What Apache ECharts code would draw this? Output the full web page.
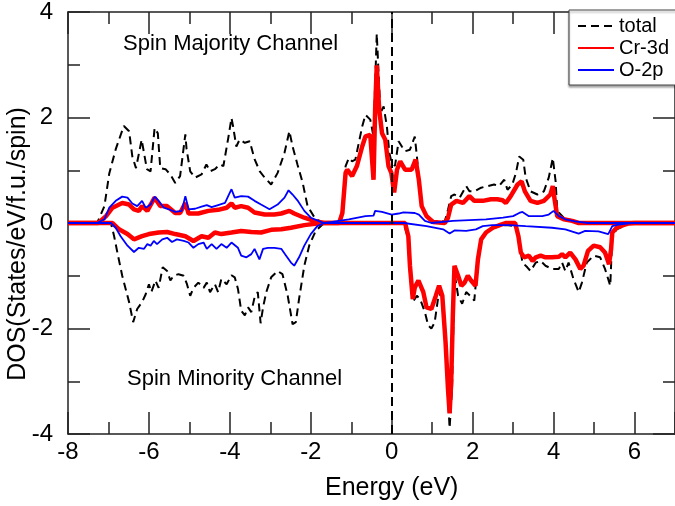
<!DOCTYPE html>
<html>
<head>
<meta charset="utf-8">
<script src="https://cdn.jsdelivr.net/npm/echarts@6/dist/echarts.min.js"></script>
<style>html,body{margin:0;padding:0;background:#fff;}#c{width:675px;height:506px;}</style>
</head>
<body>
<div id="c"></div>
<script>
var xTicks = [-8, -6, -4, -2, 0, 2, 4, 6];
var yTicks = [-4, -2, 0, 2, 4];
var legendNames = ['total', 'Cr-3d', 'O-2p'];

var totalUp = [[-8,0],[-7.28,0],[-7.1,0.32],[-6.98,0.94],[-6.82,1.40],[-6.62,1.84],[-6.49,1.74],[-6.41,1.26],[-6.32,1.04],[-6.18,1.58],[-6.12,1.32],[-6.05,1.02],[-5.96,0.98],[-5.86,1.80],[-5.78,1.70],[-5.72,1.04],[-5.59,1.02],[-5.47,0.92],[-5.35,0.76],[-5.23,0.89],[-5.10,1.68],[-5.07,1.40],[-4.98,0.98],[-4.86,0.86],[-4.70,0.92],[-4.58,1.11],[-4.49,0.98],[-4.37,1.02],[-4.25,1.11],[-4.16,1.08],[-4.04,1.61],[-3.96,1.99],[-3.92,1.83],[-3.84,1.45],[-3.76,1.58],[-3.63,1.52],[-3.51,1.55],[-3.39,1.21],[-3.26,0.98],[-3.14,0.86],[-2.98,0.73],[-2.82,0.95],[-2.65,1.33],[-2.53,1.74],[-2.45,1.45],[-2.33,1.11],[-2.20,0.76],[-2.08,0.32],[-1.88,0.07],[-1.67,0],[-1.30,0.01],[-1.22,0.25],[-1.14,1.08],[-1.06,1.23],[-0.98,1.17],[-0.90,1.20],[-0.73,1.83],[-0.65,2.05],[-0.53,1.96],[-0.45,1.64],[-0.37,3.59],[-0.28,2.08],[-0.20,2.21],[-0.12,1.83],[-0.06,1.33],[-0.02,1.20],[0.08,1.08],[0.17,1.55],[0.25,1.45],[0.33,1.36],[0.45,1.39],[0.57,1.64],[0.63,1.20],[0.72,0.38],[0.86,0.13],[1.02,0.04],[1.31,0.03],[1.39,0.25],[1.47,0.51],[1.55,0.54],[1.68,0.48],[1.84,0.70],[1.92,0.60],[2.04,0.60],[2.21,0.67],[2.37,0.70],[2.53,0.73],[2.65,0.70],[2.78,0.82],[2.86,0.63],[2.98,0.73],[3.07,0.95],[3.15,1.26],[3.25,1.20],[3.31,0.86],[3.43,0.60],[3.60,0.54],[3.76,0.60],[3.88,0.86],[3.98,1.23],[4.05,0.79],[4.09,0.23],[4.25,0.10],[4.46,0.05],[4.62,0.01],[4.85,0],[7,0]];

var crUp = [[-8,0],[-7.25,0],[-7.06,0.13],[-6.90,0.29],[-6.66,0.38],[-6.49,0.35],[-6.37,0.26],[-6.25,0.23],[-6.17,0.32],[-6.04,0.23],[-5.86,0.48],[-5.72,0.32],[-5.55,0.32],[-5.35,0.19],[-5.23,0.19],[-5.10,0.38],[-5.02,0.18],[-4.78,0.18],[-4.53,0.23],[-4.29,0.25],[-4.08,0.29],[-3.96,0.37],[-3.88,0.29],[-3.72,0.32],[-3.55,0.29],[-3.39,0.20],[-3.14,0.16],[-2.90,0.16],[-2.73,0.18],[-2.53,0.23],[-2.41,0.18],[-2.16,0.10],[-1.92,0.04],[-1.67,0],[-1.30,0],[-1.22,0.19],[-1.14,0.95],[-1.10,1.01],[-0.98,0.89],[-0.86,1.08],[-0.73,1.45],[-0.65,1.64],[-0.53,1.67],[-0.45,0.82],[-0.41,2.15],[-0.37,2.99],[-0.31,2.15],[-0.24,1.70],[-0.16,1.58],[-0.08,1.08],[-0.01,0.95],[0.06,0.58],[0.13,1.01],[0.21,1.17],[0.33,1.01],[0.49,1.01],[0.59,1.20],[0.67,0.82],[0.74,0.32],[0.86,0.13],[1.02,0.02],[1.31,0],[1.39,0.10],[1.47,0.35],[1.60,0.42],[1.76,0.38],[1.92,0.51],[2.04,0.42],[2.25,0.42],[2.45,0.45],[2.61,0.45],[2.74,0.43],[2.82,0.38],[2.94,0.51],[3.11,0.73],[3.21,0.79],[3.29,0.60],[3.43,0.42],[3.60,0.38],[3.76,0.42],[3.92,0.54],[3.98,0.70],[4.03,0.42],[4.09,0.13],[4.25,0.07],[4.46,0.04],[4.62,0],[7,0]];

var oUp = [[-8,0],[-7.28,0],[-7.1,0.07],[-6.98,0.29],[-6.82,0.42],[-6.66,0.50],[-6.53,0.48],[-6.41,0.37],[-6.29,0.32],[-6.17,0.42],[-6.08,0.29],[-5.96,0.35],[-5.86,0.50],[-5.76,0.42],[-5.63,0.29],[-5.51,0.26],[-5.35,0.21],[-5.19,0.23],[-5.10,0.51],[-5.02,0.26],[-4.86,0.27],[-4.70,0.31],[-4.57,0.34],[-4.45,0.30],[-4.29,0.34],[-4.12,0.38],[-3.96,0.64],[-3.88,0.48],[-3.72,0.51],[-3.55,0.50],[-3.39,0.42],[-3.23,0.35],[-3.02,0.26],[-2.82,0.35],[-2.65,0.48],[-2.55,0.62],[-2.45,0.54],[-2.33,0.43],[-2.16,0.23],[-2.0,0.10],[-1.75,0.02],[-1.67,0],[-1.47,0.02],[-1.06,0.07],[-0.65,0.13],[-0.45,0.14],[-0.41,0.23],[-0.24,0.21],[0.0,0.16],[0.17,0.18],[0.29,0.20],[0.57,0.19],[0.67,0.16],[0.82,0.04],[0.98,0],[1.51,0.04],[2.33,0.07],[2.75,0.10],[3.0,0.13],[3.15,0.19],[3.23,0.21],[3.39,0.13],[3.72,0.13],[3.88,0.16],[4.0,0.23],[4.13,0.13],[4.29,0.07],[4.53,0.03],[4.85,0],[7,0]];

var totalDown = [[-8,0],[-6.94,0],[-6.86,-0.25],[-6.78,-0.56],[-6.66,-1.0],[-6.49,-1.50],[-6.39,-1.88],[-6.29,-1.63],[-6.17,-1.50],[-6.08,-1.35],[-6.0,-1.16],[-5.94,-1.31],[-5.84,-1.09],[-5.76,-1.23],[-5.66,-0.84],[-5.55,-0.91],[-5.47,-1.09],[-5.39,-1.0],[-5.27,-0.97],[-5.14,-1.0],[-5.06,-1.16],[-4.98,-1.38],[-4.90,-1.23],[-4.78,-1.13],[-4.65,-1.23],[-4.57,-1.13],[-4.49,-1.31],[-4.37,-1.16],[-4.29,-1.31],[-4.21,-1.06],[-4.08,-1.16],[-3.96,-0.99],[-3.88,-1.03],[-3.80,-1.25],[-3.72,-1.66],[-3.63,-1.75],[-3.55,-1.60],[-3.47,-1.69],[-3.39,-1.41],[-3.31,-1.31],[-3.24,-1.90],[-3.18,-1.60],[-3.10,-1.31],[-2.98,-1.03],[-2.82,-0.91],[-2.70,-0.97],[-2.57,-1.38],[-2.45,-1.92],[-2.37,-1.88],[-2.29,-1.44],[-2.16,-0.81],[-2.04,-0.43],[-1.88,-0.15],[-1.67,0],[0.30,-0.02],[0.41,-0.30],[0.45,-0.94],[0.52,-1.50],[0.62,-1.38],[0.70,-1.44],[0.82,-1.69],[0.90,-1.94],[0.98,-2.0],[1.06,-1.89],[1.17,-1.29],[1.25,-1.50],[1.33,-2.38],[1.43,-3.89],[1.49,-3.14],[1.55,-0.94],[1.64,-1.38],[1.74,-1.53],[1.84,-1.31],[1.94,-1.38],[2.04,-1.47],[2.11,-0.87],[2.21,-0.34],[2.33,-0.19],[2.50,-0.10],[2.70,-0.05],[2.83,-0.04],[3.07,-0.06],[3.15,-0.37],[3.23,-0.75],[3.35,-0.84],[3.43,-0.91],[3.56,-0.75],[3.68,-0.72],[3.80,-0.81],[3.96,-0.87],[4.13,-0.87],[4.21,-0.75],[4.29,-0.91],[4.37,-0.75],[4.49,-1.06],[4.62,-1.31],[4.70,-1.13],[4.82,-0.75],[4.99,-0.62],[5.15,-0.65],[5.27,-0.87],[5.40,-1.19],[5.45,-0.25],[5.56,-0.12],[5.72,-0.06],[5.84,-0.02],[6.0,0],[7,0]];

var crDown = [[-8,0],[-6.9,0],[-6.74,-0.12],[-6.53,-0.21],[-6.37,-0.31],[-6.17,-0.25],[-6.0,-0.21],[-5.76,-0.18],[-5.55,-0.17],[-5.35,-0.21],[-5.10,-0.25],[-4.90,-0.34],[-4.70,-0.25],[-4.53,-0.28],[-4.37,-0.18],[-4.21,-0.21],[-3.96,-0.18],[-3.72,-0.15],[-3.47,-0.17],[-3.23,-0.18],[-2.98,-0.13],[-2.73,-0.12],[-2.49,-0.09],[-2.16,-0.04],[-1.84,-0.01],[-1.67,0],[0.33,0],[0.41,-0.25],[0.45,-0.81],[0.52,-1.44],[0.57,-1.22],[0.66,-1.09],[0.78,-1.31],[0.86,-1.60],[0.98,-1.63],[1.09,-1.38],[1.17,-1.19],[1.25,-1.38],[1.33,-2.26],[1.39,-3.14],[1.43,-3.61],[1.47,-3.01],[1.51,-1.75],[1.55,-0.81],[1.64,-1.0],[1.72,-1.19],[1.80,-1.13],[1.88,-1.0],[1.96,-1.09],[2.07,-1.19],[2.13,-0.69],[2.21,-0.31],[2.33,-0.18],[2.50,-0.09],[2.70,-0.03],[2.83,0],[3.05,0],[3.13,-0.25],[3.19,-0.56],[3.27,-0.65],[3.39,-0.62],[3.48,-0.72],[3.56,-0.65],[3.68,-0.62],[3.80,-0.65],[3.96,-0.65],[4.13,-0.64],[4.21,-0.59],[4.29,-0.65],[4.41,-0.56],[4.54,-0.69],[4.66,-0.87],[4.74,-0.81],[4.85,-0.53],[4.99,-0.43],[5.15,-0.46],[5.27,-0.56],[5.37,-0.78],[5.42,-0.5],[5.45,-0.18],[5.56,-0.09],[5.72,-0.04],[5.84,-0.01],[6.0,0],[7,0]];

var oDown = [[-8,0],[-6.94,0],[-6.82,-0.09],[-6.70,-0.25],[-6.53,-0.43],[-6.37,-0.55],[-6.25,-0.47],[-6.12,-0.49],[-6.04,-0.40],[-5.96,-0.43],[-5.88,-0.34],[-5.80,-0.40],[-5.67,-0.31],[-5.55,-0.28],[-5.43,-0.36],[-5.31,-0.31],[-5.14,-0.34],[-5.02,-0.37],[-4.90,-0.47],[-4.78,-0.40],[-4.65,-0.37],[-4.57,-0.49],[-4.45,-0.40],[-4.33,-0.49],[-4.21,-0.40],[-4.08,-0.47],[-3.96,-0.37],[-3.80,-0.47],[-3.72,-0.62],[-3.59,-0.65],[-3.47,-0.59],[-3.39,-0.49],[-3.27,-0.69],[-3.18,-0.49],[-3.06,-0.47],[-2.90,-0.47],[-2.73,-0.49],[-2.61,-0.62],[-2.49,-0.75],[-2.41,-0.81],[-2.29,-0.65],[-2.16,-0.43],[-2.0,-0.21],[-1.84,-0.06],[-1.67,0],[0.30,0],[0.86,-0.06],[1.27,-0.12],[1.43,-0.20],[1.55,-0.14],[1.84,-0.15],[2.08,-0.12],[2.25,-0.06],[2.49,-0.04],[2.9,-0.04],[3.31,-0.06],[3.96,-0.09],[4.29,-0.12],[4.62,-0.20],[4.78,-0.15],[5.11,-0.16],[5.35,-0.21],[5.45,-0.06],[5.6,-0.03],[5.92,0],[7,0]];

var xTitle = 'Energy (eV)';
var yTitle = 'DOS(States/eV/f.u./spin)';

var FONT = 'Liberation Sans, Arial, Helvetica, sans-serif';
var chart = echarts.init(document.getElementById('c'), null, {renderer: 'canvas'});

function axisCommon(showLabels) {
  return {
    axisLine: {show: true, onZero: false, lineStyle: {color: '#222', width: 1.5}},
    axisTick: {show: true, inside: true, length: 22, lineStyle: {color: '#222', width: 1.5}},
    minorTick: {show: true, splitNumber: 2, length: 12, lineStyle: {color: '#222', width: 1.5}},
    splitLine: {show: false},
    minorSplitLine: {show: false},
    axisLabel: {show: showLabels, fontSize: 24, color: '#000', fontFamily: FONT, showMaxLabel: false,
      formatter: function (v) { return v === 7 ? '' : String(v); }}
  };
}

var xb = Object.assign({type: 'value', min: xTicks[0], max: 7, interval: 2, position: 'bottom'}, axisCommon(true));
xb.axisLabel.margin = 6;
var xt = Object.assign({type: 'value', min: xTicks[0], max: 7, interval: 2, position: 'top'}, axisCommon(false));
var yl = Object.assign({type: 'value', min: yTicks[0], max: yTicks[yTicks.length - 1], interval: 2, position: 'left'}, axisCommon(true));
yl.axisLabel.margin = 15;
yl.axisLabel.showMaxLabel = true;
yl.axisLabel.formatter = function (v) { return String(v); };
var yr = Object.assign({type: 'value', min: yTicks[0], max: yTicks[yTicks.length - 1], interval: 2, position: 'right'}, axisCommon(false));

function mk(name, data, color, width, dashed, z) {
  return {
    name: name, type: 'line', data: data, symbol: 'none', showSymbol: false,
    xAxisIndex: 0, yAxisIndex: 0, z: z,
    lineStyle: {color: color, width: width, type: dashed ? [8, 5] : 'solid'},
    itemStyle: {color: color},
    emphasis: {disabled: true}
  };
}

var sTotUp = mk(legendNames[0], totalUp, '#000', 2, true, 2);
var sTotDn = mk(legendNames[0], totalDown, '#000', 2, true, 2);
var sCrUp = mk(legendNames[1], crUp, '#ff0000', 4.5, false, 3);
var sCrDn = mk(legendNames[1], crDown, '#ff0000', 4.5, false, 3);
var sOUp = mk(legendNames[2], oUp, '#0000ff', 1.8, false, 4);
var sODn = mk(legendNames[2], oDown, '#0000ff', 1.8, false, 4);
sOUp.markLine = {
  silent: true, symbol: 'none', label: {show: false}, z: 6,
  lineStyle: {color: '#000', width: 2, type: [9, 5]},
  data: [{xAxis: 0}]
};

chart.setOption({
  animation: false,
  backgroundColor: '#fff',
  textStyle: {fontFamily: FONT},
  grid: {left: 68, right: -6, top: 10, bottom: 72, containLabel: false},
  xAxis: [xb, xt],
  yAxis: [yl, yr],
  legend: {
    data: legendNames, orient: 'vertical', left: 569, top: 10,
    backgroundColor: '#fff', borderColor: '#444', borderWidth: 1,
    padding: [6, 40, 5, 8], itemWidth: 36, itemHeight: 14, itemGap: 2,
    itemStyle: {opacity: 0, borderWidth: 0},
    textStyle: {fontSize: 20, color: '#000', fontFamily: FONT},
    shadowColor: 'rgba(0,0,0,0.35)', shadowOffsetX: 0, shadowOffsetY: 2, shadowBlur: 2
  },
  series: [sTotUp, sTotDn, sCrUp, sCrDn, sOUp, sODn]
});

// Axis titles and annotations: the x title is centred on the x = 0 tick, as in the reference.
var zeroPx = chart.convertToPixel({xAxisIndex: 0}, 0);
chart.setOption({
  graphic: [
    {type: 'text', x: 123, y: 44, z: 10,
      style: {text: 'Spin Majority Channel', fontSize: 22, fontFamily: FONT, fill: '#000',
        align: 'left', verticalAlign: 'middle', textAlign: 'left', textVerticalAlign: 'middle'}},
    {type: 'text', x: 127, y: 379, z: 10,
      style: {text: 'Spin Minority Channel', fontSize: 22, fontFamily: FONT, fill: '#000',
        align: 'left', verticalAlign: 'middle', textAlign: 'left', textVerticalAlign: 'middle'}},
    {type: 'text', x: zeroPx, y: 488, z: 10,
      style: {text: xTitle, fontSize: 25, fontFamily: FONT, fill: '#000',
        align: 'center', verticalAlign: 'middle', textAlign: 'center', textVerticalAlign: 'middle'}},
    {type: 'text', x: 18, y: 244, rotation: Math.PI / 2, z: 10,
      style: {text: yTitle, fontSize: 25, fontFamily: FONT, fill: '#000',
        align: 'center', verticalAlign: 'middle', textAlign: 'center', textVerticalAlign: 'middle'}}
  ]
});
</script>
</body>
</html>
